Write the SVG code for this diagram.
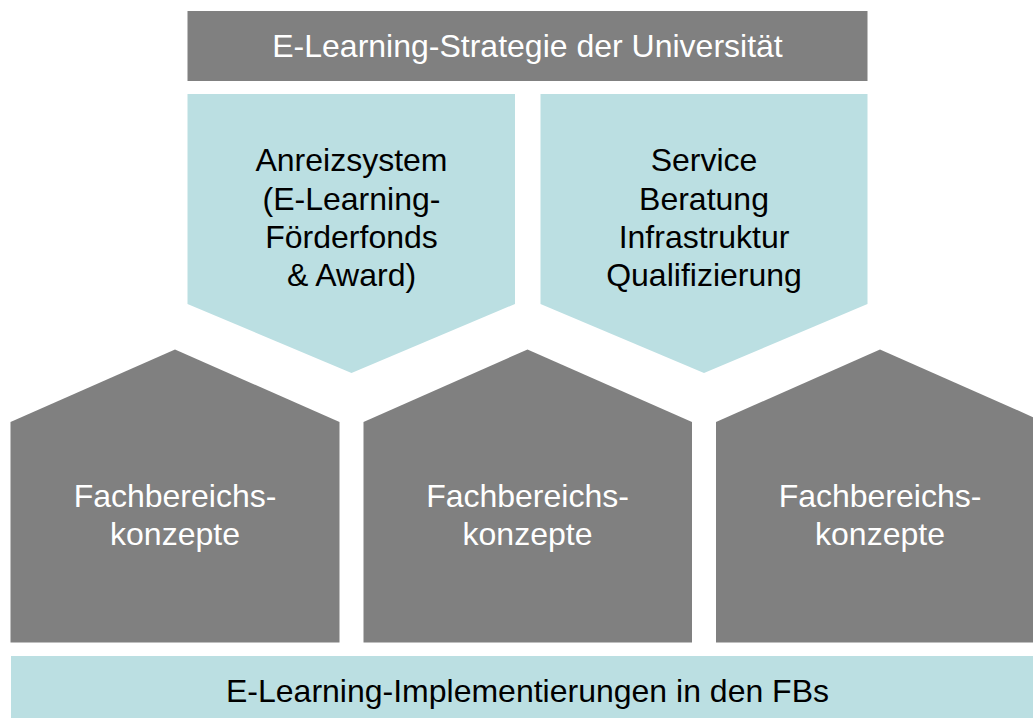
<svg xmlns="http://www.w3.org/2000/svg" width="1033" height="718" viewBox="0 0 1033 718">
<style>
.grey{fill:#808080}
.blue{fill:#BBDFE2}
text{font-family:"Liberation Sans",Arial,sans-serif;font-size:32px;text-anchor:middle}
.w{fill:#ffffff}
.k{fill:#000000}
</style>
<rect width="1033" height="718" fill="#ffffff"/>
<g id="strategy">
<rect class="grey" x="187.5" y="11" width="680" height="70"/>
<text class="w" x="527.5" y="57">E-Learning-Strategie der Universität</text>
</g>
<g id="anreizsystem">
<polygon class="blue" points="187.5,94 515,94 515,304 351.5,373 187.5,304"/>
<text class="k" x="351.5" y="171">Anreizsystem</text>
<text class="k" x="351.5" y="209.5">(E-Learning-</text>
<text class="k" x="351.5" y="248">Förderfonds</text>
<text class="k" x="351.5" y="286">&amp; Award)</text>
</g>
<g id="service">
<polygon class="blue" points="540.5,94 867.5,94 867.5,304 704,373 540.5,304"/>
<text class="k" x="704" y="171">Service</text>
<text class="k" x="704" y="209.5">Beratung</text>
<text class="k" x="704" y="248">Infrastruktur</text>
<text class="k" x="704" y="286">Qualifizierung</text>
</g>
<g id="fb1">
<polygon class="grey" points="10.5,422 175,349.5 339.5,422 339.5,642.5 10.5,642.5"/>
<text class="w" x="175" y="507">Fachbereichs-</text>
<text class="w" x="175" y="545">konzepte</text>
</g>
<g id="fb2">
<polygon class="grey" points="363.5,422 527.5,349.5 692,422 692,642.5 363.5,642.5"/>
<text class="w" x="527.5" y="507">Fachbereichs-</text>
<text class="w" x="527.5" y="545">konzepte</text>
</g>
<g id="fb3">
<polygon class="grey" points="716,422 880,349.5 1044,422 1044,642.5 716,642.5"/>
<text class="w" x="880" y="507">Fachbereichs-</text>
<text class="w" x="880" y="545">konzepte</text>
</g>
<g id="implementation">
<rect class="blue" x="11" y="656" width="1033" height="70"/>
<text class="k" x="527.5" y="702">E-Learning-Implementierungen in den FBs</text>
</g>
<g id="connectors"></g>
</svg>
